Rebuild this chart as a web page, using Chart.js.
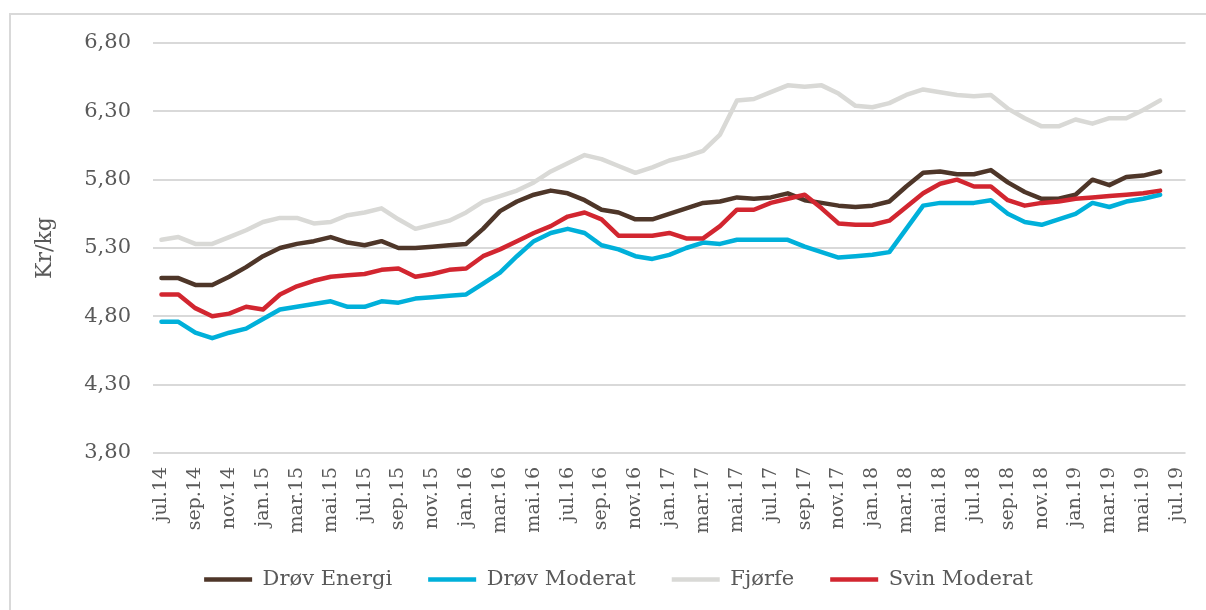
<!DOCTYPE html>
<html>
<head>
<meta charset="utf-8">
<script src="https://cdn.jsdelivr.net/npm/chart.js@4"></script>
<style>
    body { margin: 0; background: #fff; }
    #wrap { position: relative; width: 1206px; height: 610px; overflow: hidden; }
    #frame {
        position: absolute; left: 9px; top: 13px; width: 1400px; height: 800px;
        border-left: 2px solid #d9d9d9; border-top: 2px solid #d9d9d9;
    }
    canvas { position: absolute; left: 0; top: 0; }
</style>
</head>
<body>
<div id="wrap">
    <div id="frame"></div>
    <canvas id="chart" width="1206" height="610"></canvas>
</div>
<script>
// Months jul.14 - jul.19 (last category has no data)
const months = [
    'jul.14', 'aug.14', 'sep.14', 'okt.14', 'nov.14', 'des.14',
    'jan.15', 'feb.15', 'mar.15', 'apr.15', 'mai.15', 'jun.15',
    'jul.15', 'aug.15', 'sep.15', 'okt.15', 'nov.15', 'des.15',
    'jan.16', 'feb.16', 'mar.16', 'apr.16', 'mai.16', 'jun.16',
    'jul.16', 'aug.16', 'sep.16', 'okt.16', 'nov.16', 'des.16',
    'jan.17', 'feb.17', 'mar.17', 'apr.17', 'mai.17', 'jun.17',
    'jul.17', 'aug.17', 'sep.17', 'okt.17', 'nov.17', 'des.17',
    'jan.18', 'feb.18', 'mar.18', 'apr.18', 'mai.18', 'jun.18',
    'jul.18', 'aug.18', 'sep.18', 'okt.18', 'nov.18', 'des.18',
    'jan.19', 'feb.19', 'mar.19', 'apr.19', 'mai.19', 'jun.19',
    'jul.19'
];

const drovEnergi = [
    5.08, 5.08, 5.03, 5.03, 5.09, 5.16, 5.24, 5.30, 5.33, 5.35,
    5.38, 5.34, 5.32, 5.35, 5.30, 5.30, 5.31, 5.32, 5.33, 5.44,
    5.57, 5.64, 5.69, 5.72, 5.70, 5.65, 5.58, 5.56, 5.51, 5.51,
    5.55, 5.59, 5.63, 5.64, 5.67, 5.66, 5.67, 5.70, 5.65, 5.63,
    5.61, 5.60, 5.61, 5.64, 5.75, 5.85, 5.86, 5.84, 5.84, 5.87,
    5.78, 5.71, 5.66, 5.66, 5.69, 5.80, 5.76, 5.82, 5.83, 5.86,
    null
];

const drovModerat = [
    4.76, 4.76, 4.68, 4.64, 4.68, 4.71, 4.78, 4.85, 4.87, 4.89,
    4.91, 4.87, 4.87, 4.91, 4.90, 4.93, 4.94, 4.95, 4.96, 5.04,
    5.12, 5.24, 5.35, 5.41, 5.44, 5.41, 5.32, 5.29, 5.24, 5.22,
    5.25, 5.30, 5.34, 5.33, 5.36, 5.36, 5.36, 5.36, 5.31, 5.27,
    5.23, 5.24, 5.25, 5.27, 5.44, 5.61, 5.63, 5.63, 5.63, 5.65,
    5.55, 5.49, 5.47, 5.51, 5.55, 5.63, 5.60, 5.64, 5.66, 5.69,
    null
];

const fjorfe = [
    5.36, 5.38, 5.33, 5.33, 5.38, 5.43, 5.49, 5.52, 5.52, 5.48,
    5.49, 5.54, 5.56, 5.59, 5.51, 5.44, 5.47, 5.50, 5.56, 5.64,
    5.68, 5.72, 5.78, 5.86, 5.92, 5.98, 5.95, 5.90, 5.85, 5.89,
    5.94, 5.97, 6.01, 6.13, 6.38, 6.39, 6.44, 6.49, 6.48, 6.49,
    6.43, 6.34, 6.33, 6.36, 6.42, 6.46, 6.44, 6.42, 6.41, 6.42,
    6.32, 6.25, 6.19, 6.19, 6.24, 6.21, 6.25, 6.25, 6.31, 6.38,
    null
];

const svinModerat = [
    4.96, 4.96, 4.86, 4.80, 4.82, 4.87, 4.85, 4.96, 5.02, 5.06,
    5.09, 5.10, 5.11, 5.14, 5.15, 5.09, 5.11, 5.14, 5.15, 5.24,
    5.29, 5.35, 5.41, 5.46, 5.53, 5.56, 5.51, 5.39, 5.39, 5.39,
    5.41, 5.37, 5.37, 5.46, 5.58, 5.58, 5.63, 5.66, 5.69, 5.59,
    5.48, 5.47, 5.47, 5.50, 5.60, 5.70, 5.77, 5.80, 5.75, 5.75,
    5.65, 5.61, 5.63, 5.64, 5.66, 5.67, 5.68, 5.69, 5.70, 5.72,
    null
];

const yTicks = [3.80, 4.30, 4.80, 5.30, 5.80, 6.30, 6.80];

const textColor = '#595959';
const fontFamily = '"DejaVu Serif", Georgia, serif';

// later series are drawn on top, like the original
function makeSeries(label, data, color, order) {
    return {
        label: label,
        data: data,
        borderColor: color,
        backgroundColor: color,
        borderWidth: 4.5,
        borderCapStyle: 'round',
        borderJoinStyle: 'round',
        pointRadius: 0,
        pointHoverRadius: 0,
        tension: 0,
        fill: false,
        order: order
    };
}

const config = {
    type: 'line',
    data: {
        labels: months,
        datasets: [
            makeSeries('Drøv Energi', drovEnergi, '#4e3629', 3),
            makeSeries('Drøv Moderat', drovModerat, '#00b0da', 2),
            makeSeries('Fjørfe', fjorfe, '#d9d9d6', 1),
            makeSeries('Svin Moderat', svinModerat, '#d22630', 0)
        ]
    },
    options: {
        responsive: false,
        animation: false,
        devicePixelRatio: 1,
        layout: {
            padding: { left: 47, right: 16, top: 43, bottom: 10 }
        },
        scales: {
            x: {
                type: 'category',
                offset: true,
                grid: { display: false },
                border: { display: false },
                ticks: {
                    autoSkip: false,
                    minRotation: 90,
                    maxRotation: 90,
                    padding: 6,
                    color: textColor,
                    font: { family: fontFamily, size: 19 },
                    callback: function (value, index) {
                        return index % 2 === 0 ? months[index] : '';
                    }
                },
                afterFit: (axis) => { axis.height = 80; }
            },
            y: {
                min: 3.8,
                max: 6.8,
                grid: {
                    color: '#d9d9d9',
                    lineWidth: 2,
                    drawTicks: false
                },
                border: { display: false },
                ticks: {
                    padding: 22,
                    color: textColor,
                    font: { family: fontFamily, size: 21 },
                    callback: (value) => value.toFixed(2).replace('.', ',')
                },
                afterBuildTicks: (axis) => {
                    axis.ticks = yTicks.map(v => ({ value: v }));
                },
                title: {
                    display: true,
                    text: 'Kr/kg',
                    color: textColor,
                    font: { family: fontFamily, size: 22 },
                    padding: { top: -15, bottom: 0 }
                },
                afterFit: (axis) => { axis.width = 106; }
            }
        },
        plugins: {
            legend: {
                position: 'bottom',
                labels: {
                    usePointStyle: true,
                    pointStyle: 'line',
                    pointStyleWidth: 48,
                    padding: 36,
                    color: textColor,
                    font: { family: fontFamily, size: 21 },
                    sort: (a, b) => a.datasetIndex - b.datasetIndex
                }
            },
            tooltip: { enabled: false }
        }
    }
};

new Chart(document.getElementById('chart'), config);
</script>
</body>
</html>
